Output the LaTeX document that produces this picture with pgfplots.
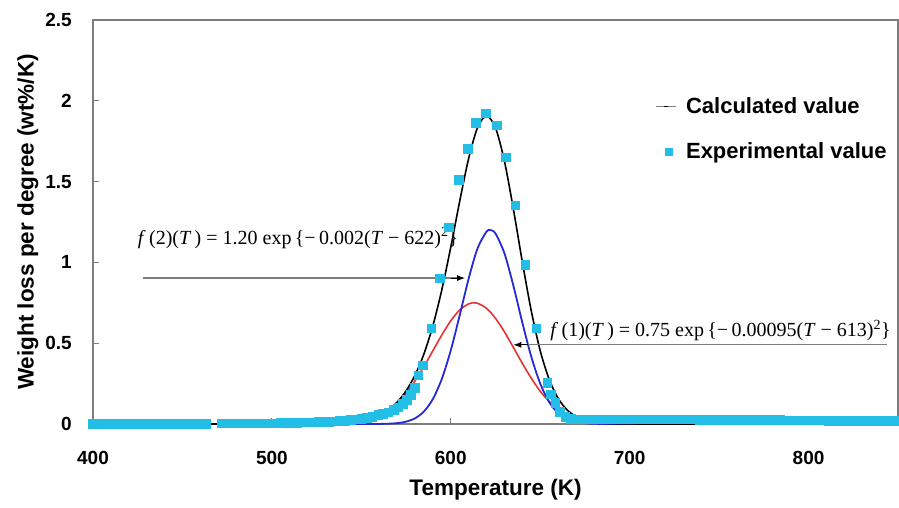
\documentclass[border=0pt]{standalone}
\usepackage{fontspec}
\setmainfont{Liberation Sans}
\newfontfamily\serifff{Liberation Serif}
\usepackage{pgfplots}
\pgfplotsset{compat=1.18}
\usetikzlibrary{arrows.meta}
\definecolor{expcyan}{RGB}{35,190,230}
\definecolor{axgray}{RGB}{125,125,125}
\definecolor{calcred}{RGB}{232,50,50}
\definecolor{calcblue}{RGB}{40,40,215}
\begin{document}
\begin{tikzpicture}
\begin{axis}[
  at={(0,0)}, anchor=south west,
  scale only axis, width=805pt, height=404pt,
  xmin=400, xmax=850, ymin=0, ymax=2.5,
  clip=false,
  xtick={400,500,...,800}, ytick={0,0.5,1,1.5,2,2.5},
  axis line style={axgray, line width=1.3pt},
  tick style={axgray, line width=1pt},
  tick align=inside, tick pos=left, major tick length=6pt,
  /pgf/number format/assume math mode=true,
  tick label style={font=\fontsize{19}{21}\selectfont\bfseries, inner sep=0pt},
  xticklabel style={anchor=center, yshift=-34pt},
  yticklabel style={anchor=east, xshift=-21pt},
  xlabel={Temperature (K)}, ylabel={Weight loss per degree (wt\%/K)},
  label style={font=\fontsize{22.5}{24}\selectfont\bfseries},
  xlabel style={at={(axis description cs:0.5,-0.163)}, anchor=center},
  ylabel style={at={(axis description cs:-0.081,0.5)}, anchor=center},
  legend cell align=left,
  legend style={at={(axis description cs:0.698,0.814)}, anchor=north west,
    draw=none, fill=none, inner sep=0pt, row sep=24pt,
    font=\fontsize{22}{24}\selectfont\bfseries,
    /tikz/every odd column/.append style={column sep=8pt}},
]
% component 1 (red) and component 2 (blue)
\addplot[calcred, line width=1.6pt, smooth, forget plot] coordinates {
 (400,0) (520,0.0004) (530,0.0011) (535,0.0023) (540,0.0048) (545,0.0093) (550,0.0173)
 (555,0.0307) (560,0.0520) (565,0.0840) (570,0.1295) (575,0.1902) (580,0.2666)
 (585,0.3561) (590,0.4537) (595,0.5513) (600,0.6388) (605,0.7058) (610,0.7436)
 (613,0.75) (615,0.7472) (620,0.7159) (625,0.6541) (630,0.5700) (635,0.4736)
 (640,0.3752) (645,0.2835) (650,0.2028) (655,0.1404) (660,0.0920) (665,0.0575)
 (670,0.0342) (675,0.0195) (680,0.0105) (685,0.0055) (690,0.0027) (695,0.0013)
 (700,0.0006) (720,0) (850,0)
};
\addplot[calcblue, line width=1.8pt, smooth, forget plot] coordinates {
 (400,0) (540,0) (550,0.0000) (555,0.0002) (560,0.0005) (565,0.0018) (570,0.0054)
 (575,0.0145) (580,0.0352) (585,0.0776) (590,0.1548) (595,0.2793) (600,0.4557)
 (605,0.6732) (610,0.8997) (615,1.0880) (620,1.1904) (622,1.2) (625,1.1786)
 (630,1.0558) (635,0.8558) (640,0.6277) (645,0.4166) (650,0.2502) (655,0.1359)
 (660,0.0668) (665,0.0297) (670,0.0120) (675,0.0044) (680,0.0014) (685,0.0004)
 (690,0.0001) (700,0) (850,0)
};
% calculated value = sum
\addplot[black, line width=1.6pt, smooth,
  legend image code/.code={\draw[black!50, line width=1pt] (0pt,0pt) -- (20pt,0pt);
    \draw[black, line width=1pt] (8pt,0pt) -- (12pt,0pt);}] coordinates {
 (400,0) (520,0.0004) (530,0.0011) (535,0.0023) (540,0.0048) (545,0.0093) (550,0.0173)
 (555,0.0309) (560,0.0526) (565,0.0858) (570,0.1349) (575,0.2047) (580,0.3018)
 (585,0.4337) (590,0.6085) (595,0.8306) (600,1.0945) (605,1.3790) (610,1.6433)
 (615,1.8352) (620,1.9063) (625,1.8327) (630,1.6258) (635,1.3294) (640,1.0029)
 (645,0.7001) (650,0.4530) (655,0.2763) (660,0.1588) (665,0.0872) (670,0.0462)
 (675,0.0239) (680,0.0119) (685,0.0059) (690,0.0028) (695,0.0013) (700,0.0006)
 (720,0) (850,0)
};
\addlegendentry{Calculated value}
% experimental value
\addplot[only marks, mark=square*, mark size=4.3pt, expcyan,
  legend image code/.code={\node[fill=expcyan, inner sep=0pt, minimum size=8pt] at (9pt,0pt) {};}]
 coordinates {
 (400,0.003) (403,0.003) (406,0.003) (409,0.003) (412,0.003) (415,0.003) (418,0.003)
 (421,0.003) (424,0.003) (427,0.003) (430,0.003) (433,0.003) (436,0.003) (439,0.003)
 (442,0.003) (445,0.003) (448,0.003) (451,0.003) (454,0.003) (457,0.003) (460,0.003)
 (463,0.003)
 (472,0.004) (475,0.004) (478,0.004) (481,0.004) (484,0.004) (487,0.005) (490,0.005)
 (493,0.005) (496,0.005) (499,0.006) (502,0.006) (505,0.007) (508,0.007) (511,0.008)
 (514,0.009) (517,0.010) (520,0.011) (523,0.012) (526,0.013) (529,0.014) (532,0.015)
 (535,0.017) (538,0.019) (541,0.022) (544,0.025) (547,0.029) (550,0.034) (553,0.039)
 (556,0.046) (559.4,0.056) (562,0.065) (565,0.074) (568,0.088) (570.6,0.105)
 (573,0.125) (575.2,0.149) (577.5,0.180) (579.8,0.223) (581.7,0.303) (584.4,0.365)
 (589.1,0.594) (593.7,0.903) (598.9,1.219) (604.4,1.510) (609.4,1.702) (613.9,1.863)
 (619.5,1.924) (625.6,1.850) (630.6,1.652) (636.1,1.355) (641.7,0.984) (647.8,0.594)
 (653.9,0.254) (656,0.185) (658.3,0.130) (661,0.075) (664,0.045) (667,0.032)
 (670,0.030) (673,0.030) (676,0.030) (679,0.030) (682,0.030) (685,0.030) (688,0.030)
 (691,0.030) (694,0.030) (697,0.030) (700,0.030) (703,0.030) (706,0.030) (709,0.030)
 (712,0.030) (715,0.030) (718,0.030) (721,0.030) (724,0.030) (727,0.029) (730,0.029)
 (733,0.029) (736,0.029) (739,0.028) (742,0.028) (745,0.028) (748,0.028) (751,0.027)
 (754,0.027) (757,0.027) (760,0.027) (763,0.026) (766,0.026) (769,0.026) (772,0.026)
 (775,0.025) (778,0.025) (781,0.025) (784,0.025) (787,0.024) (790,0.024) (793,0.024)
 (796,0.024) (799,0.023) (802,0.023) (805,0.023) (808,0.023) (811,0.022) (814,0.022)
 (817,0.022) (820,0.022) (823,0.022) (826,0.021) (829,0.021) (832,0.021) (835,0.021)
 (838,0.021) (841,0.020) (844,0.020) (847,0.020) (850,0.020)
};
\addlegendentry{Experimental value}
% annotations
\node[anchor=west, inner sep=0pt, font=\serifff\fontsize{20}{22}\selectfont]
  at (axis cs:425,1.151)
  {\textit{f}\,(2)(\textit{T}\,) = 1.20 exp\,\{−\,0.002(\textit{T} − 622)\textsuperscript{2}\}};
\draw[axgray, line width=1.3pt] (axis cs:428,0.903) -- (axis cs:604,0.903);
\draw[black, line width=1pt, -{Latex[length=8pt,width=6pt]}] (axis cs:600,0.903) -- (axis cs:608,0.903);
\node[anchor=west, inner sep=0pt, font=\serifff\fontsize{20}{22}\selectfont]
  at (axis cs:655.6,0.58)
  {\textit{f}\,(1)(\textit{T}\,) = 0.75 exp\,\{−\,0.00095(\textit{T} − 613)\textsuperscript{2}\}};
\draw[axgray, line width=1.3pt] (axis cs:639,0.49) -- (axis cs:844,0.49);
\draw[black, line width=1pt, -{Latex[length=8pt,width=6pt]}] (axis cs:643,0.49) -- (axis cs:635,0.49);
\end{axis}
\pgfresetboundingbox
\path[use as bounding box] (-93pt,-84pt) rectangle (806pt,424pt);
\end{tikzpicture}
\end{document}
